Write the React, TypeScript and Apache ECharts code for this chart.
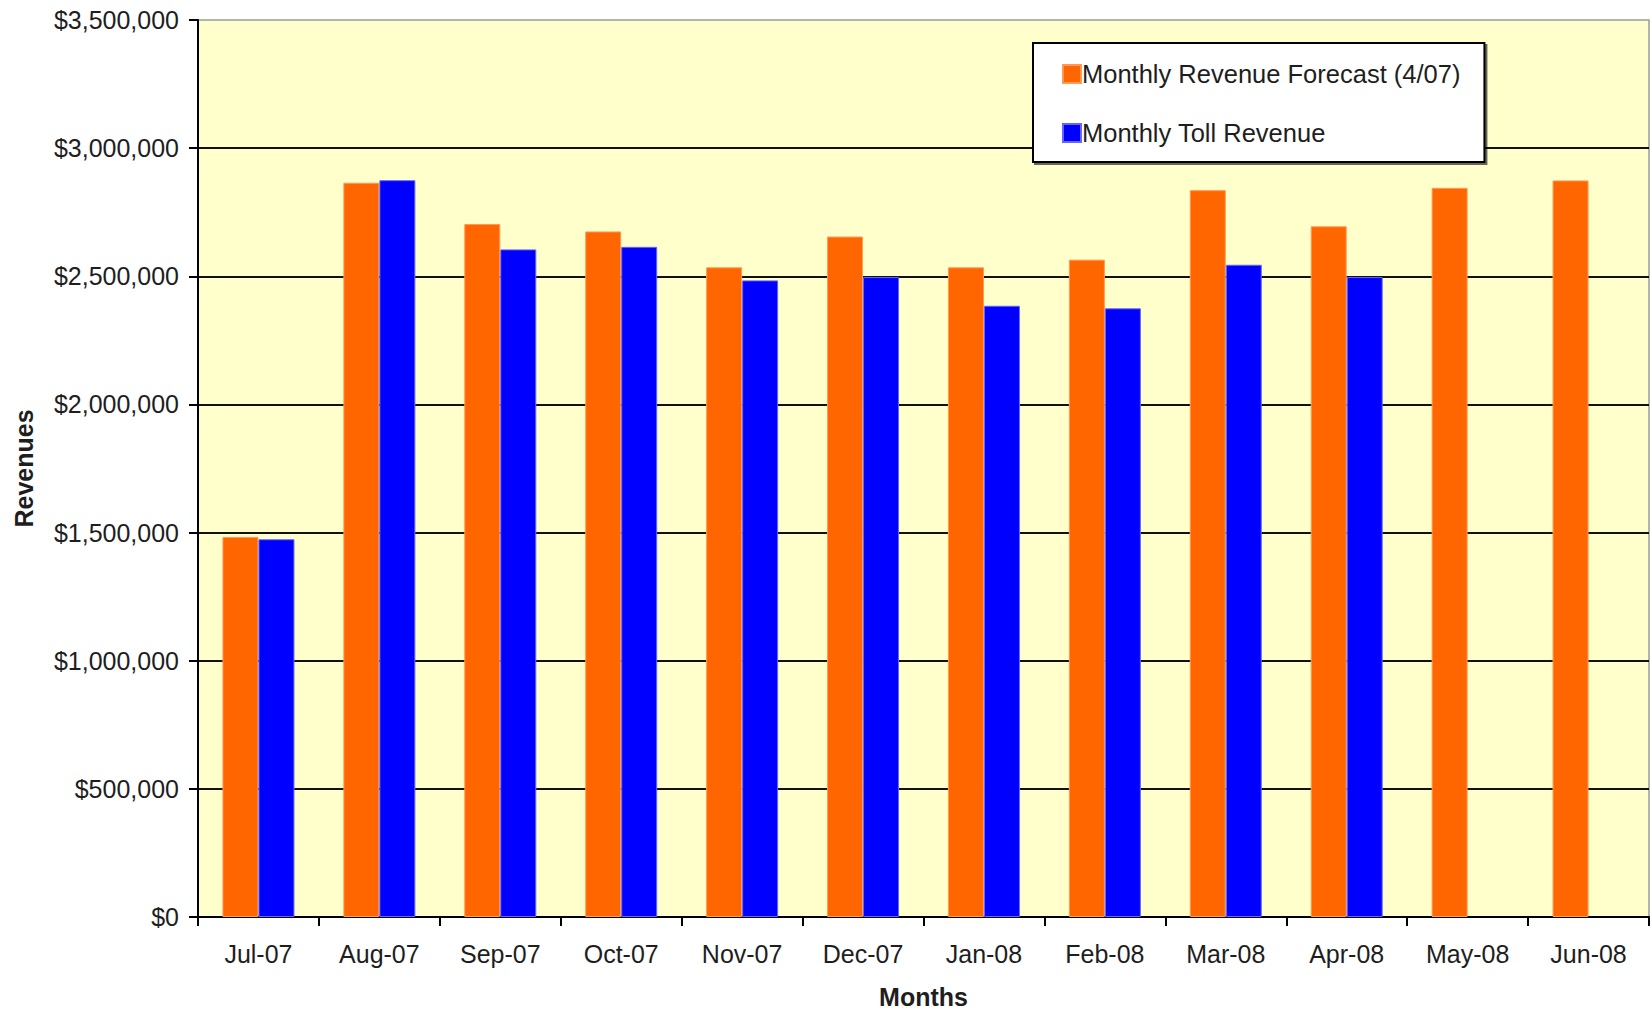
import React, { useEffect, useRef } from "react";
import * as echarts from "echarts";

const months = ["Jul-07", "Aug-07", "Sep-07", "Oct-07", "Nov-07", "Dec-07", "Jan-08", "Feb-08", "Mar-08", "Apr-08", "May-08", "Jun-08"];
const forecast = [1483000, 2865000, 2704000, 2675000, 2535000, 2655000, 2535000, 2565000, 2836000, 2695000, 2845000, 2874000];
const toll = [1474000, 2875000, 2605000, 2615000, 2484000, 2497000, 2385000, 2375000, 2545000, 2497000, null, null];
const seriesNames = ["Monthly Revenue Forecast (4/07)", "Monthly Toll Revenue"];

const FONT = "'Liberation Sans', Arial, sans-serif";
const TXT = "#1e1e1e";

function fmt(v: number) {
  return "$" + v.toLocaleString("en-US");
}

export default function App() {
  const ref = useRef<HTMLDivElement>(null);
  useEffect(() => {
    if (!ref.current) return;
    const chart = echarts.init(ref.current, null, { renderer: "svg" });
    chart.setOption({
      animation: false,
      backgroundColor: "#ffffff",
      textStyle: { fontFamily: FONT },
      grid: {
        left: 198,
        right: 3,
        top: 20,
        bottom: 90,
        show: true,
        backgroundColor: "#FFFFCC",
        borderColor: "#9a9a9a",
        borderWidth: 1.5,
      },
      legend: {
        left: 1033,
        top: 43,
        orient: "vertical",
        backgroundColor: "#ffffff",
        borderColor: "#000000",
        borderWidth: 2,
        padding: [18, 24, 16, 29],
        itemWidth: 18,
        itemHeight: 18,
        itemGap: 33,
        shadowColor: "rgba(0,0,0,0.6)",
        shadowOffsetX: 2,
        shadowOffsetY: 2,
        shadowBlur: 0,
        icon: "rect",
        textStyle: { fontFamily: FONT, fontSize: 25.5, color: TXT, lineHeight: 24, padding: [0, 0, 0, -4] },
        data: seriesNames,
      },
      xAxis: {
        type: "category",
        data: months,
        name: "Months",
        nameLocation: "middle",
        nameGap: 67,
        nameTextStyle: { fontFamily: FONT, fontSize: 25, fontWeight: "bold", color: TXT },
        axisLine: { lineStyle: { color: "#000", width: 2 } },
        axisTick: { show: true, length: 9, lineStyle: { color: "#000", width: 2 } },
        axisLabel: { fontFamily: FONT, fontSize: 25, color: TXT, margin: 24 },
        splitLine: { show: false },
      },
      yAxis: {
        type: "value",
        min: 0,
        max: 3500000,
        interval: 500000,
        name: "Revenues",
        nameLocation: "middle",
        nameGap: 162,
        nameRotate: 90,
        nameTextStyle: { fontFamily: FONT, fontSize: 25, fontWeight: "bold", color: TXT },
        axisLine: { show: true, lineStyle: { color: "#000", width: 2 } },
        axisTick: { show: true, length: 9, lineStyle: { color: "#000", width: 2 } },
        axisLabel: { fontFamily: FONT, fontSize: 25, color: TXT, margin: 19, formatter: (v: number) => fmt(v) },
        splitLine: { show: true, showMaxLine: false, lineStyle: { color: "#111", width: 2 } },
      },
      series: [
        {
          name: seriesNames[0],
          type: "bar",
          data: forecast,
          barWidth: 36,
          barGap: "0%",
          itemStyle: { color: "#FF6600", borderColor: "#FF9955", borderWidth: 1 },
        },
        {
          name: seriesNames[1],
          type: "bar",
          data: toll,
          barWidth: 36,
          barGap: "0%",
          itemStyle: { color: "#0000FF", borderColor: "#6666FF", borderWidth: 1 },
        },
      ],
    });
    return () => chart.dispose();
  }, []);
  return (
    <div
      ref={ref}
      style={{ position: "fixed", left: 0, top: 0, width: 1652, height: 1014 }}
    />
  );
}
